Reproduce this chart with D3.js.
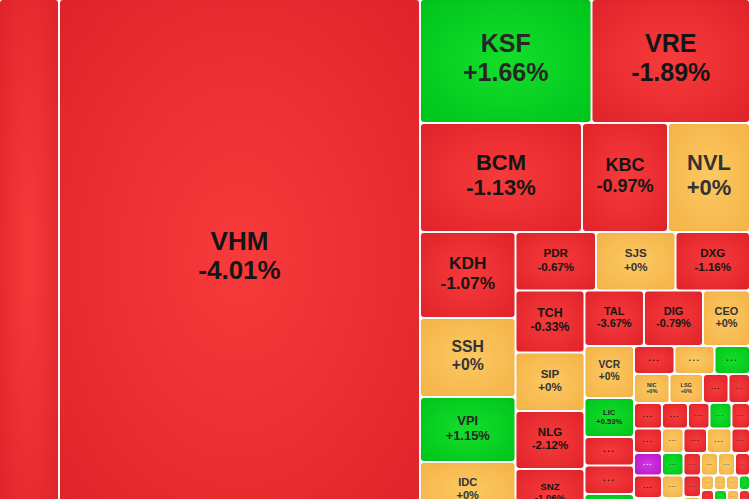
<!DOCTYPE html>
<html>
<head>
<meta charset="utf-8">
<script src="https://cdn.jsdelivr.net/npm/d3@7/dist/d3.min.js"></script>
<style>
  html, body { margin: 0; padding: 0; overflow: hidden; background: #ffffff; }
  svg { display: block; }
</style>
</head>
<body>
<div id="chart"></div>
<script>
// ---- data ----
// named tickers, their % change and their weight (area share)
const tickers = ["", "VHM", "KSF", "VRE", "BCM", "KBC", "NVL", "KDH", "SSH", "VPI", "IDC",
  "PDR", "SJS", "DXG", "TCH", "SIP", "NLG", "SNZ", "TAL", "DIG", "CEO", "VCR", "LIC", "NIC", "LSG"];
const changes = [-1.0, -4.01, 1.66, -1.89, -1.13, -0.97, 0, -1.07, 0, 1.15, 0,
  -0.67, 0, -1.16, -0.33, 0, -2.12, -1.06, -3.67, -0.79, 0, 0, 0.53, 0, 0];
const weights = [31140, 187359, 21266, 19654, 17658, 9374, 8938, 8213, 7544, 6208, 5348,
  4709, 4651, 4358, 4278, 4037, 4002, 3381, 3302, 3275, 2609, 2574, 1931, 1030, 972];

// small unnamed tickers (shown as "...")
const otherChanges = [-1, -1, 1, -1, 0, 1, -1, -1, -1, -1, 6.9, -1, -1, -1, -1, 1, -1,
  0, 1, 0, 0, -1, 0, -1, -1, 0, 0, -1, -1, 0, 0, 0, 0, 1, -1, 1, 0, -1, -1, -1, 0, -1];
const otherWeights = [1411, 1411, 1188, 1134, 1120, 994, 740, 624, 714, 686, 630, 630, 560,
  663, 548, 561, 472, 527, 484, 484, 430, 576, 600, 453, 394, 383, 383, 338, 376, 368,
  189, 174, 189, 160, 182, 182, 168, 154, 168, 154, 182, 182];

// nesting of the treemap: "h" = side by side, "v" = stacked
const layout = ["h", "", "VHM",
  ["v", ["h", "KSF", "VRE"], ["h", "BCM", "KBC", "NVL"],
    ["h", ["v", "KDH", "SSH", "VPI", "IDC"],
      ["v", ["h", "PDR", "SJS", "DXG"],
        ["h", ["v", "TCH", "SIP", "NLG", "SNZ"],
          ["v", ["h", "TAL", "DIG", "CEO"],
            ["h", ["v", "VCR", "LIC", 0, 1, 2],
              ["v", ["h", 3, 4, 5], ["h", "NIC", "LSG", 6, 7],
                ["h", ["v", 8, 9, 10, 11, 12],
                  ["v", ["h", 13, 14, 15, 16],
                    ["h", ["v", 17, 18, 19, 20],
                      ["v", ["h", 21, 22, 23], ["h", 24, 25, 26, 27],
                        ["h", ["v", 28, 29],
                          ["v", ["h", 30, 31, 32, 33], ["h", 34, 35, 36, 37], ["h", 38, 39, 40, 41]]]]]]]]]]]]]]];

// ---- build ----
const W = 749, H = 517, VIEW_H = 499;

function build(spec) {
  if (Array.isArray(spec)) {
    return { dir: spec[0], children: spec.slice(1).map(build) };
  }
  if (typeof spec === "number") {
    return { name: "...", change: otherChanges[spec], value: otherWeights[spec] };
  }
  const i = tickers.indexOf(spec);
  return { name: tickers[i], change: changes[i], value: weights[i] };
}

const root = d3.hierarchy(build(layout)).sum(d => d.children ? 0 : d.value);

function tile(node, x0, y0, x1, y1) {
  (node.data.dir === "h" ? d3.treemapDice : d3.treemapSlice)(node, x0, y0, x1, y1);
}

d3.treemap().tile(tile).size([W, H]).paddingInner(2)(root);

function colorClass(c) {
  if (c >= 6.5) return "purple";
  if (c > 0) return "green";
  if (c < 0) return "red";
  return "orange";
}
const palette = {
  red:    { inner: "#f73b3b", outer: "#e0232a", text: "#151515" },
  green:  { inner: "#14de2a", outer: "#00c41c", text: "#262626" },
  orange: { inner: "#fcc863", outer: "#f4b346", text: "#333333" },
  purple: { inner: "#d634e8", outer: "#b21bc4", text: "#f2f2f2" }
};

const svg = d3.select("#chart").append("svg")
  .attr("width", W).attr("height", H)
  .style("background", "#ffffff");

const defs = svg.append("defs");
Object.entries(palette).forEach(([k, p]) => {
  const g = defs.append("radialGradient").attr("id", "grad-" + k)
    .attr("cx", "50%").attr("cy", "50%").attr("r", "70%");
  g.append("stop").attr("offset", "0%").attr("stop-color", p.inner);
  g.append("stop").attr("offset", "100%").attr("stop-color", p.outer);
});

const FONT = "'Liberation Sans', Arial, Helvetica, sans-serif";
const ctx = document.createElement("canvas").getContext("2d");
ctx.font = "bold 100px " + FONT;
const unitWidth = s => ctx.measureText(s).width / 100;

const fmt = v => (v >= 0 ? "+" + v : String(v)) + "%";

const leaves = root.leaves();
const cell = svg.selectAll("g.cell").data(leaves).join("g").attr("class", "cell");

cell.append("rect")
  .attr("x", d => d.x0).attr("y", d => d.y0)
  .attr("width", d => Math.max(0, d.x1 - d.x0))
  .attr("height", d => Math.max(0, d.y1 - d.y0))
  .attr("rx", 3).attr("ry", 3)
  .attr("fill", d => "url(#grad-" + colorClass(d.data.change) + ")")
  .attr("stroke", "rgba(0,0,0,0.06)").attr("stroke-width", 0.6);

leaves.forEach(d => {
  const name = d.data.name;
  if (!name) return;
  const w = d.x1 - d.x0, h = d.y1 - d.y0;
  const cx = (d.x0 + d.x1) / 2, cy = (d.y0 + d.y1) / 2;
  if (cy > VIEW_H) return;
  const p = palette[colorClass(d.data.change)];
  const g = svg.append("g").attr("font-family", FONT).attr("font-weight", "bold")
    .attr("text-anchor", "middle").attr("fill", p.text);
  if (name === "...") {
    const fs = Math.min(9, 0.34 * h, 0.3 * w);
    g.append("text").attr("x", cx).attr("y", cy + 0.12 * fs)
      .attr("font-size", fs).attr("letter-spacing", fs * 0.18).text("...");
    return;
  }
  const ch = fmt(d.data.change);
  const units = Math.max(unitWidth(name), unitWidth(ch));
  const fs = Math.min(26, 0.205 * h, 0.68 * w / units);
  g.append("text").attr("x", cx).attr("y", cy - 0.34 * fs).attr("font-size", fs).text(name);
  g.append("text").attr("x", cx).attr("y", cy + 0.8 * fs).attr("font-size", fs).text(ch);
});
</script>
</body>
</html>
